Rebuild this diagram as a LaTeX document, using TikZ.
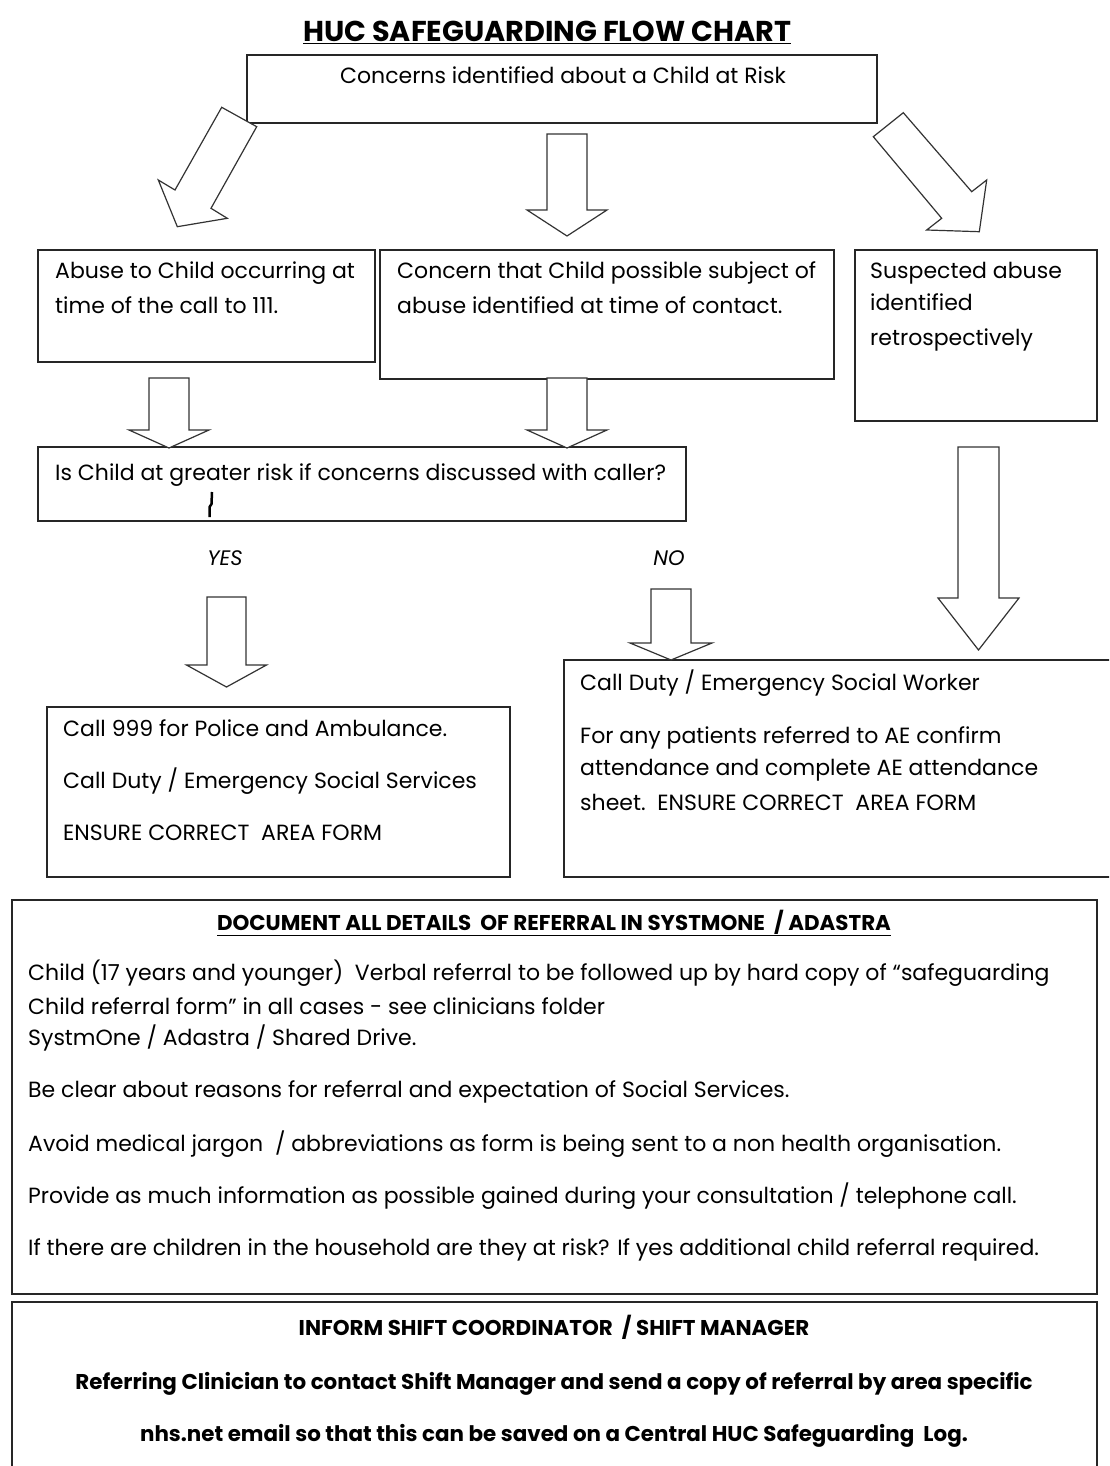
\documentclass[tikz,border=0pt]{standalone}
\usepackage{fontspec}
\setmainfont{Poppins}
\usepackage{graphicx}
\newcommand{\vblk}[6]{%
  \draw[blk] (#1-#2,#4) -- (#1+#2,#4) -- (#1+#2,#5) -- (#1+#3,#5) -- (#1,#6) -- (#1-#3,#5) -- (#1-#2,#5) -- cycle;}
\tikzset{
  box/.style={draw=black!85, line width=1.3pt, inner sep=0pt},
  blk/.style={draw=black!80, line width=1.2pt, fill=white, line join=miter},
  txt/.style={anchor=base west, inner sep=0pt, yshift=-1.5pt, font=\fontsize{22}{26}\selectfont},
  ctxt/.style={anchor=base, inner sep=0pt, yshift=-1.5pt, font=\fontsize{22}{26}\selectfont},
  btxt/.style={anchor=base, inner sep=0pt, yshift=-1pt, font=\fontsize{21.4}{25}\selectfont\bfseries},
}
\begin{document}
\begin{tikzpicture}[x=1pt,y=-1pt]
\clip (0,0) rectangle (1109,1466);
\fill[white] (0,0) rectangle (1109,1466);

% title
\node[anchor=base, inner sep=0pt, font=\fontsize{28.7}{33}\selectfont\bfseries] (title) at (547,42) {\underline{HUC SAFEGUARDING FLOW CHART}};

% boxes
\node[box, minimum width=630, minimum height=68] (top) at (562,89) {};
\node[box, minimum width=337, minimum height=112] (bl) at (206.5,306) {};
\node[box, minimum width=454, minimum height=129] (bm) at (607,314.5) {};
\node[box, minimum width=242, minimum height=171] (br) at (976,335.5) {};
\node[box, minimum width=648, minimum height=74] (q) at (362,484) {};
\node[box, minimum width=463, minimum height=170] (yesb) at (278.5,792) {};
\node[box, minimum width=566, minimum height=217] (nob) at (847,768.5) {};
\node[box, minimum width=1085, minimum height=394] (doc) at (554.5,1097) {};
\node[box, minimum width=1085, minimum height=188] (inf) at (554.5,1396) {};

% diagonal block arrows
\draw[blk] (221.7,107.3) -- (256.7,126.7) -- (211,208.3) -- (227.3,218.3) -- (177.3,226.7) -- (158.3,180) -- (175,190) -- cycle;
\draw[blk] (903.3,112.7) -- (971.7,191.7) -- (986.7,180) -- (979.3,231.7) -- (926.7,230) -- (941.7,218.3) -- (873.3,136.7) -- cycle;

% vertical block arrows
\vblk{567}{20}{40}{134}{210}{236}
\vblk{169}{20}{40}{378}{430}{448}
\vblk{567}{20}{40}{378}{430}{448}
\vblk{226.5}{19.5}{40}{597}{665}{687}
\vblk{671}{20}{41}{589}{643}{660}
\vblk{978.5}{20.5}{40.5}{447}{598}{650}

% texts
\node[ctxt] (t0) at (563,82) {Concerns identified about a Child at Risk};
\node[txt] (l1) at (55,277) {Abuse to Child occurring at};
\node[txt] (l2) at (55,312) {time of the call to 111.};
\node[txt] (m1) at (397,277) {Concern that Child possible subject of};
\node[txt] (m2) at (397,312) {abuse identified at time of contact.};
\node[txt] (r1) at (870,277) {Suspected abuse};
\node[txt] (r2) at (870,309) {identified};
\node[txt] (r3) at (870,344) {retrospectively};
\node[txt] (q1) at (55,479) {Is Child at greater risk if concerns discussed with caller?};
\draw[line width=2.5pt] (212,492) -- (211.5,504) -- (209.5,507) -- (209.5,517);
\node[ctxt, font=\fontsize{21}{25}\selectfont\itshape] (yes) at (225,564) {YES};
\node[ctxt, font=\fontsize{21}{25}\selectfont\itshape] (no) at (669,564) {NO};
\node[txt] (y1) at (63,735) {Call 999 for Police and Ambulance.};
\node[txt] (y2) at (63,787) {Call Duty / Emergency Social Services};
\node[txt] (y3) at (63,839) {ENSURE CORRECT\ \ AREA FORM};
\node[txt] (n1) at (580,689) {Call Duty / Emergency Social Worker};
\node[txt] (n2) at (580,742) {For any patients referred to AE confirm};
\node[txt] (n3) at (580,774) {attendance and complete AE attendance};
\node[txt] (n4) at (580,809) {sheet.\ \ ENSURE CORRECT\ \ AREA FORM};
\node[btxt] (dh) at (554,929) {\underline{DOCUMENT ALL DETAILS\ \ OF REFERRAL IN SYSTMONE\ \ / ADASTRA}};
\node[txt] (d1) at (28,979) {Child (17 years and younger)\ \ Verbal referral to be followed up by hard copy of “safeguarding};
\node[txt] (d2) at (28,1013) {Child referral form” in all cases - see clinicians folder};
\node[txt] (d3) at (28,1044) {SystmOne / Adastra / Shared Drive.};
\node[txt] (d4) at (28,1096) {Be clear about reasons for referral and expectation of Social Services.};
\node[txt] (d5) at (28,1150) {Avoid medical jargon\ \ / abbreviations as form is being sent to a non health organisation.};
\node[txt] (d6) at (28,1202) {Provide as much information as possible gained during your consultation / telephone call.};
\node[txt] (d7) at (28,1254) {If there are children in the household are they at risk? If yes additional child referral required.};
\node[btxt] (i1) at (554,1334) {INFORM SHIFT COORDINATOR\ \ / SHIFT MANAGER};
\node[btxt] (i2) at (554,1388) {Referring Clinician to contact Shift Manager and send a copy of referral by area specific};
\node[btxt] (i3) at (554,1440) {nhs.net email so that this can be saved on a Central HUC Safeguarding\ \ Log.};
\end{tikzpicture}
\end{document}
